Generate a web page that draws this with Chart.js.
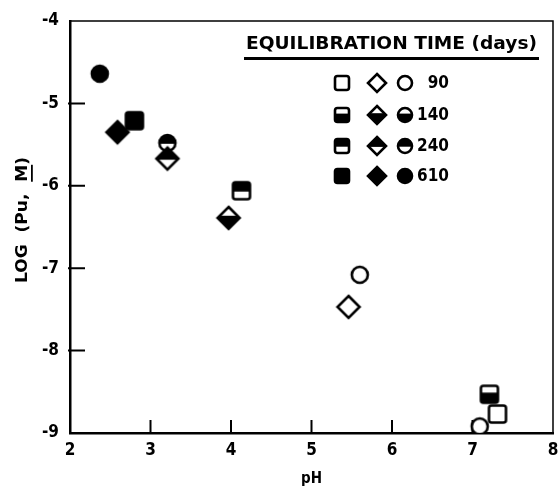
<!DOCTYPE html>
<html>
<head>
<meta charset="utf-8">
<title>LOG (Pu, M) vs pH</title>
<script src="https://cdn.jsdelivr.net/npm/chart.js@4.4.0/dist/chart.umd.min.js"></script>
<style>
  html, body { margin: 0; padding: 0; background: #fff; }
  #graph { width: 558px; height: 489px; position: relative; }
</style>
</head>
<body>
<div id="graph"><canvas id="grafico"></canvas></div>
<script>
// tiempos de equilibrio (dias)
var tiempos = ['90', '140', '240', '610'];

// cuadros
var phCuadros = [7.31, 7.21, 4.13, 2.80];
var logCuadros = [-8.77, -8.53, -6.06, -5.21];
var tiempoCuadros = ['90', '140', '240', '610'];

// rombos
var phRombos = [5.46, 3.97, 3.21, 2.59];
var logRombos = [-7.47, -6.39, -5.67, -5.35];
var tiempoRombos = ['90', '140', '240', '610'];

// circulos
var phCirculos = [5.60, 7.09, 3.21, 2.37];
var logCirculos = [-7.08, -8.92, -5.48, -4.64];
var tiempoCirculos = ['90', '90', '240', '610'];

var ticksX = [2, 3, 4, 5, 6, 7, 8];
var ticksY = [-4, -5, -6, -7, -8, -9];

var fuente = "'DejaVu Sans Condensed', 'DejaVu Sans', sans-serif";
var fuenteAncha = "'DejaVu Sans', sans-serif";

// relleno segun el tiempo
var rellenoXTiempo = { '90': 'vacio', '140': 'abajo', '240': 'arriba', '610': 'lleno' };

function trazarForma(ctx, forma, c, t) {
  ctx.beginPath();
  if (forma == 'cuadro') {
    var r = 2.5;
    var a = c - t, b = c + t;
    ctx.moveTo(a + r, a);
    ctx.arcTo(b, a, b, b, r);
    ctx.arcTo(b, b, a, b, r);
    ctx.arcTo(a, b, a, a, r);
    ctx.arcTo(a, a, b, a, r);
  } else if (forma == 'rombo') {
    ctx.moveTo(c, c - t);
    ctx.lineTo(c + t, c);
    ctx.lineTo(c, c + t);
    ctx.lineTo(c - t, c);
  } else {
    ctx.arc(c, c, t, 0, Math.PI * 2);
  }
  ctx.closePath();
}

function crearMarcador(forma, relleno, tam) {
  var lado = 30;
  var c = lado / 2;
  var canvas = document.createElement('canvas');
  canvas.width = lado;
  canvas.height = lado;
  var ctx = canvas.getContext('2d');
  trazarForma(ctx, forma, c, tam);
  ctx.fillStyle = '#fff';
  ctx.fill();
  ctx.save();
  trazarForma(ctx, forma, c, tam);
  ctx.clip();
  ctx.fillStyle = '#000';
  if (relleno == 'lleno') {
    ctx.fillRect(0, 0, lado, lado);
  } else if (relleno == 'abajo') {
    ctx.fillRect(0, c - tam * 0.2, lado, lado);
  } else if (relleno == 'arriba') {
    ctx.fillRect(0, 0, lado, c + tam * 0.1);
  }
  ctx.restore();
  trazarForma(ctx, forma, c, tam);
  ctx.lineWidth = 2.6;
  ctx.strokeStyle = '#000';
  ctx.stroke();
  return canvas;
}

var tamanos = { cuadro: 8.5, rombo: 11, circulo: 8 };
var tamanosLeyenda = { cuadro: 7, rombo: 9, circulo: 7 };

function marcadoresPara(forma, lista, tam) {
  var res = [];
  for (var i = 0; i < lista.length; i++) {
    res.push(crearMarcador(forma, rellenoXTiempo[lista[i]], tam));
  }
  return res;
}

function puntos(xs, ys) {
  var res = [];
  for (var i = 0; i < xs.length; i++) {
    res.push({ x: xs[i], y: ys[i] });
  }
  return res;
}

var datasets = [
  {
    label: 'cuadros',
    data: puntos(phCuadros, logCuadros),
    pointStyle: marcadoresPara('cuadro', tiempoCuadros, tamanos.cuadro),
    showLine: false
  },
  {
    label: 'rombos',
    data: puntos(phRombos, logRombos),
    pointStyle: marcadoresPara('rombo', tiempoRombos, tamanos.rombo),
    showLine: false
  },
  {
    label: 'circulos',
    data: puntos(phCirculos, logCirculos),
    pointStyle: marcadoresPara('circulo', tiempoCirculos, tamanos.circulo),
    showLine: false
  }
];

// texto estirado a un ancho dado
function textoAncho(ctx, texto, x, y, ancho) {
  var w = ctx.measureText(texto).width;
  ctx.save();
  ctx.translate(x, y);
  ctx.scale(ancho / w, 1);
  ctx.fillText(texto, 0, 0);
  ctx.restore();
}

// marco, marcas hacia adentro, titulo del eje y y leyenda
var pluginMarco = {
  id: 'marco',
  beforeDatasetsDraw: function(chart) {
    var ctx = chart.ctx;
    var area = chart.chartArea;
    var sx = chart.scales.x, sy = chart.scales.y;
    ctx.save();
    ctx.strokeStyle = '#000';
    ctx.lineWidth = 1.5;
    ctx.beginPath();
    ctx.moveTo(area.left, area.top);
    ctx.lineTo(area.right, area.top);
    ctx.lineTo(area.right, area.bottom);
    ctx.stroke();
    ctx.lineWidth = 2;
    ctx.beginPath();
    for (var i = 1; i < ticksX.length - 1; i++) {
      var px = sx.getPixelForValue(ticksX[i]);
      ctx.moveTo(px, area.bottom);
      ctx.lineTo(px, area.bottom - 13);
    }
    for (var j = 1; j < ticksY.length - 1; j++) {
      var py = sy.getPixelForValue(ticksY[j]);
      ctx.moveTo(area.left - 2, py);
      ctx.lineTo(area.left + 15, py);
    }
    ctx.stroke();
    ctx.restore();
  },
  afterDraw: function(chart) {
    var ctx = chart.ctx;
    ctx.save();
    // titulo del eje y, con la M subrayada
    ctx.font = 'bold 16px ' + fuenteAncha;
    ctx.fillStyle = '#000';
    ctx.textBaseline = 'middle';
    ctx.textAlign = 'left';
    var texto = 'LOG  (Pu,  M)';
    var total = ctx.measureText(texto).width;
    var largo = 126;
    var k = largo / total;
    ctx.translate(23, 220);
    ctx.rotate(-Math.PI / 2);
    textoAncho(ctx, texto, -largo / 2, 0, largo);
    var antes = ctx.measureText('LOG  (Pu,  ').width * k;
    var m = ctx.measureText('M').width * k;
    ctx.fillRect(-largo / 2 + antes, 8, m, 1.8);
    ctx.restore();

    // leyenda
    ctx.save();
    ctx.fillStyle = '#000';
    ctx.font = 'bold 18px ' + fuenteAncha;
    ctx.textBaseline = 'middle';
    ctx.textAlign = 'left';
    textoAncho(ctx, 'EQUILIBRATION TIME (days)', 246, 44, 291);
    ctx.fillRect(244, 57, 295, 3);
    var filas = [83, 115, 146, 176];
    var formas = ['cuadro', 'rombo', 'circulo'];
    var columnas = [342, 377, 405];
    ctx.font = 'bold 17px ' + fuente;
    ctx.textAlign = 'right';
    for (var i = 0; i < tiempos.length; i++) {
      for (var f = 0; f < formas.length; f++) {
        var img = crearMarcador(formas[f], rellenoXTiempo[tiempos[i]], tamanosLeyenda[formas[f]]);
        ctx.drawImage(img, columnas[f] - 15, filas[i] - 15);
      }
      ctx.fillText(tiempos[i], 449, filas[i] + 1);
    }
    ctx.restore();
  }
};

var contexto = document.getElementById('grafico').getContext('2d');
var chart = new Chart(contexto, {
  type: 'scatter',
  data: { datasets: datasets },
  options: {
    responsive: true,
    maintainAspectRatio: false,
    animation: false,
    events: [],
    layout: { padding: { top: 21, right: 2, left: 0, bottom: 0 } },
    plugins: {
      legend: { display: false },
      tooltip: { enabled: false }
    },
    scales: {
      x: {
        type: 'linear',
        min: 2,
        max: 8,
        afterFit: function(scale) {
          scale.height = 56;
          scale.paddingLeft = 0;
          scale.paddingRight = 0;
        },
        afterBuildTicks: function(scale) {
          scale.ticks = ticksX.map(function(v) { return { value: v }; });
        },
        ticks: {
          color: '#000',
          padding: 7,
          maxRotation: 0,
          font: { family: fuente, size: 17, weight: 'bold' },
          callback: function(v) { return String(v); }
        },
        grid: { display: true, drawOnChartArea: false, drawTicks: false },
        border: { display: true, color: '#000', width: 2.5 },
        title: {
          display: true,
          text: 'pH',
          color: '#000',
          padding: { top: 0, bottom: 1 },
          font: { family: fuente, size: 15, weight: 'bold' }
        }
      },
      y: {
        type: 'linear',
        min: -9,
        max: -4,
        afterFit: function(scale) {
          scale.width = 70;
          scale.paddingTop = 0;
          scale.paddingBottom = 0;
        },
        afterBuildTicks: function(scale) {
          scale.ticks = ticksY.map(function(v) { return { value: v }; });
        },
        ticks: {
          color: '#000',
          padding: 11,
          font: { family: fuente, size: 17, weight: 'bold' },
          callback: function(v) { return String(v); }
        },
        grid: { display: true, drawOnChartArea: false, drawTicks: false },
        border: { display: true, color: '#000', width: 2.5 },
        title: { display: false }
      }
    }
  },
  plugins: [pluginMarco]
});
</script>
</body>
</html>
